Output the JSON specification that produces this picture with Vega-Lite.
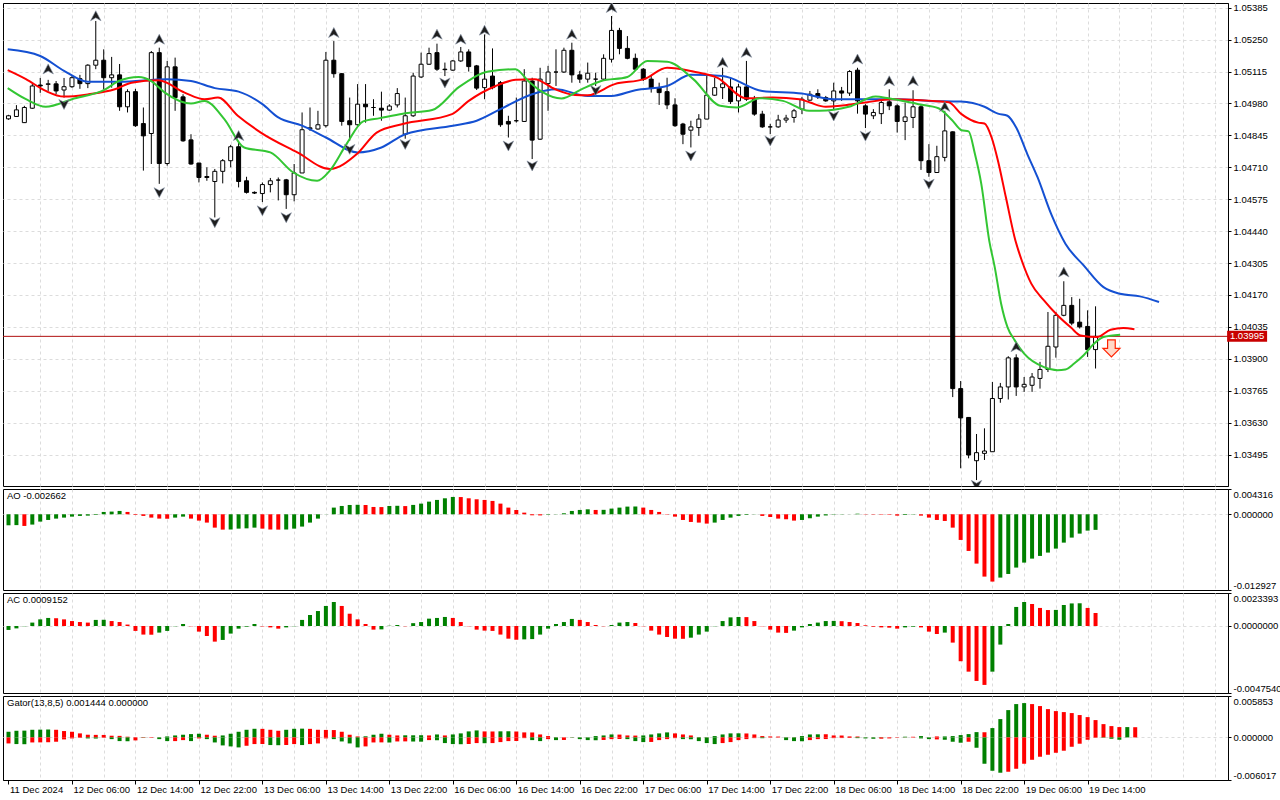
{
  "$schema": "https://vega.github.io/schema/vega-lite/v6.json",
  "background": "white",
  "padding": {"left": 2, "top": 2, "right": 0, "bottom": 0},
  "spacing": 3,
  "bounds": "flush",
  "config": {
    "view": {"stroke": "black", "strokeWidth": 1},
    "axis": {"labelFont": "Liberation Sans", "labelFontSize": 9.5, "labelColor": "black", "tickColor": "black", "domainColor": "black", "gridColor": "#dcdcdc", "gridDash": [3, 3], "gridWidth": 1, "labelOverlap": false, "labelSeparation": 0},
    "title": {"font": "Liberation Sans", "fontSize": 9.5, "fontWeight": "normal", "color": "black", "anchor": "start", "frame": "group", "offset": -12, "dx": 4, "baseline": "alphabetic"}
  },
  "datasets": {
    "last": [{"last": 1.03995}],
    "signal": [{"k": 139, "p": 1.03944}],
    "candles": [
      {"k":0,"o":1.04915,"h":1.04932,"l":1.04911,"c":1.04928},
      {"k":1,"o":1.04925,"h":1.04973,"l":1.04923,"c":1.04953},
      {"k":2,"o":1.04899,"h":1.04970,"l":1.04898,"c":1.04963},
      {"k":3,"o":1.04960,"h":1.05063,"l":1.04957,"c":1.05054},
      {"k":4,"o":1.05058,"h":1.05088,"l":1.05025,"c":1.05054},
      {"k":5,"o":1.05061,"h":1.05080,"l":1.05033,"c":1.05063},
      {"k":6,"o":1.05063,"h":1.05075,"l":1.05020,"c":1.05033},
      {"k":7,"o":1.05037,"h":1.05088,"l":1.05005,"c":1.05051},
      {"k":8,"o":1.05051,"h":1.05096,"l":1.05046,"c":1.05089},
      {"k":9,"o":1.05085,"h":1.05101,"l":1.05042,"c":1.05064},
      {"k":10,"o":1.05064,"h":1.05146,"l":1.05045,"c":1.05142},
      {"k":11,"o":1.05142,"h":1.05329,"l":1.05125,"c":1.05163},
      {"k":12,"o":1.05163,"h":1.05209,"l":1.05040,"c":1.05089},
      {"k":13,"o":1.05089,"h":1.05177,"l":1.05047,"c":1.05101},
      {"k":14,"o":1.05101,"h":1.05147,"l":1.04949,"c":1.04966},
      {"k":15,"o":1.04966,"h":1.05040,"l":1.04942,"c":1.05030},
      {"k":16,"o":1.05030,"h":1.05042,"l":1.04881,"c":1.04886},
      {"k":17,"o":1.04895,"h":1.04963,"l":1.04696,"c":1.04843},
      {"k":18,"o":1.04853,"h":1.05202,"l":1.04724,"c":1.05195},
      {"k":19,"o":1.05195,"h":1.05216,"l":1.04640,"c":1.04726},
      {"k":20,"o":1.04726,"h":1.05160,"l":1.04717,"c":1.05135},
      {"k":21,"o":1.05135,"h":1.05174,"l":1.04949,"c":1.05005},
      {"k":22,"o":1.05008,"h":1.05019,"l":1.04818,"c":1.04822},
      {"k":23,"o":1.04826,"h":1.04850,"l":1.04721,"c":1.04724},
      {"k":24,"o":1.04728,"h":1.04729,"l":1.04646,"c":1.04667},
      {"k":25,"o":1.04671,"h":1.04710,"l":1.04653,"c":1.04667},
      {"k":26,"o":1.04650,"h":1.04703,"l":1.04498,"c":1.04693},
      {"k":27,"o":1.04693,"h":1.04745,"l":1.04642,"c":1.04738},
      {"k":28,"o":1.04738,"h":1.04805,"l":1.04710,"c":1.04797},
      {"k":29,"o":1.04797,"h":1.04822,"l":1.04625,"c":1.04650},
      {"k":30,"o":1.04653,"h":1.04670,"l":1.04599,"c":1.04604},
      {"k":31,"o":1.04604,"h":1.04608,"l":1.04597,"c":1.04601},
      {"k":32,"o":1.04599,"h":1.04646,"l":1.04563,"c":1.04637},
      {"k":33,"o":1.04637,"h":1.04665,"l":1.04604,"c":1.04653},
      {"k":34,"o":1.04656,"h":1.04667,"l":1.04570,"c":1.04656},
      {"k":35,"o":1.04657,"h":1.04661,"l":1.04534,"c":1.04594},
      {"k":36,"o":1.04594,"h":1.04724,"l":1.04566,"c":1.04686},
      {"k":37,"o":1.04686,"h":1.04942,"l":1.04686,"c":1.04869},
      {"k":38,"o":1.04873,"h":1.04963,"l":1.04864,"c":1.04877},
      {"k":39,"o":1.04872,"h":1.04949,"l":1.04869,"c":1.04890},
      {"k":40,"o":1.04886,"h":1.05198,"l":1.04878,"c":1.05163},
      {"k":41,"o":1.05163,"h":1.05244,"l":1.05089,"c":1.05106},
      {"k":42,"o":1.05106,"h":1.05109,"l":1.04886,"c":1.04904},
      {"k":43,"o":1.04907,"h":1.05005,"l":1.04822,"c":1.04890},
      {"k":44,"o":1.04890,"h":1.05062,"l":1.04886,"c":1.04977},
      {"k":45,"o":1.04977,"h":1.05062,"l":1.04899,"c":1.04966},
      {"k":46,"o":1.04963,"h":1.04998,"l":1.04928,"c":1.04963},
      {"k":47,"o":1.04960,"h":1.05030,"l":1.04907,"c":1.04952},
      {"k":48,"o":1.04952,"h":1.04977,"l":1.04949,"c":1.04969},
      {"k":49,"o":1.04974,"h":1.05045,"l":1.04963,"c":1.05022},
      {"k":50,"o":1.04850,"h":1.05005,"l":1.04831,"c":1.04928},
      {"k":51,"o":1.04928,"h":1.05110,"l":1.04923,"c":1.05096},
      {"k":52,"o":1.05092,"h":1.05195,"l":1.05088,"c":1.05146},
      {"k":53,"o":1.05146,"h":1.05216,"l":1.05143,"c":1.05191},
      {"k":54,"o":1.05195,"h":1.05233,"l":1.05118,"c":1.05125},
      {"k":55,"o":1.05125,"h":1.05153,"l":1.05096,"c":1.05123},
      {"k":56,"o":1.05121,"h":1.05164,"l":1.05118,"c":1.05160},
      {"k":57,"o":1.05160,"h":1.05219,"l":1.05156,"c":1.05198},
      {"k":58,"o":1.05198,"h":1.05209,"l":1.05115,"c":1.05136},
      {"k":59,"o":1.05139,"h":1.05143,"l":1.05037,"c":1.05045},
      {"k":60,"o":1.05047,"h":1.05272,"l":1.04998,"c":1.05083},
      {"k":61,"o":1.05096,"h":1.05213,"l":1.05040,"c":1.05047},
      {"k":62,"o":1.05068,"h":1.05075,"l":1.04881,"c":1.04890},
      {"k":63,"o":1.04904,"h":1.04928,"l":1.04836,"c":1.04893},
      {"k":64,"o":1.04907,"h":1.05005,"l":1.04899,"c":1.04907},
      {"k":65,"o":1.04904,"h":1.05125,"l":1.04902,"c":1.05075},
      {"k":66,"o":1.05075,"h":1.05089,"l":1.04745,"c":1.04825},
      {"k":67,"o":1.04829,"h":1.05131,"l":1.04826,"c":1.05083},
      {"k":68,"o":1.05064,"h":1.05139,"l":1.04949,"c":1.05113},
      {"k":69,"o":1.05113,"h":1.05209,"l":1.05054,"c":1.05113},
      {"k":70,"o":1.05113,"h":1.05216,"l":1.05109,"c":1.05205},
      {"k":71,"o":1.05205,"h":1.05237,"l":1.05068,"c":1.05101},
      {"k":72,"o":1.05101,"h":1.05118,"l":1.05067,"c":1.05083},
      {"k":73,"o":1.05083,"h":1.05153,"l":1.05068,"c":1.05108},
      {"k":74,"o":1.05083,"h":1.05110,"l":1.05054,"c":1.05083},
      {"k":75,"o":1.05083,"h":1.05188,"l":1.05080,"c":1.05171},
      {"k":76,"o":1.05167,"h":1.05350,"l":1.05153,"c":1.05289},
      {"k":77,"o":1.05289,"h":1.05300,"l":1.05188,"c":1.05213},
      {"k":78,"o":1.05213,"h":1.05265,"l":1.05167,"c":1.05171},
      {"k":79,"o":1.05171,"h":1.05191,"l":1.05118,"c":1.05125},
      {"k":80,"o":1.05125,"h":1.05130,"l":1.05075,"c":1.05083},
      {"k":81,"o":1.05083,"h":1.05096,"l":1.05026,"c":1.05045},
      {"k":82,"o":1.05045,"h":1.05068,"l":1.04974,"c":1.05026},
      {"k":83,"o":1.05030,"h":1.05089,"l":1.04956,"c":1.04974},
      {"k":84,"o":1.04974,"h":1.05002,"l":1.04881,"c":1.04886},
      {"k":85,"o":1.04893,"h":1.04898,"l":1.04808,"c":1.04850},
      {"k":86,"o":1.04867,"h":1.04907,"l":1.04794,"c":1.04881},
      {"k":87,"o":1.04878,"h":1.04935,"l":1.04843,"c":1.04914},
      {"k":88,"o":1.04914,"h":1.05096,"l":1.04914,"c":1.05015},
      {"k":89,"o":1.05015,"h":1.05089,"l":1.05012,"c":1.05047},
      {"k":90,"o":1.05047,"h":1.05131,"l":1.04999,"c":1.05063},
      {"k":91,"o":1.05050,"h":1.05089,"l":1.04978,"c":1.04988},
      {"k":92,"o":1.04991,"h":1.05063,"l":1.04942,"c":1.05050},
      {"k":93,"o":1.05050,"h":1.05160,"l":1.04991,"c":1.04998},
      {"k":94,"o":1.04998,"h":1.05012,"l":1.04928,"c":1.04935},
      {"k":95,"o":1.04935,"h":1.04949,"l":1.04877,"c":1.04881},
      {"k":96,"o":1.04881,"h":1.04894,"l":1.04850,"c":1.04881},
      {"k":97,"o":1.04881,"h":1.04932,"l":1.04877,"c":1.04910},
      {"k":98,"o":1.04910,"h":1.04932,"l":1.04898,"c":1.04918},
      {"k":99,"o":1.04921,"h":1.04957,"l":1.04899,"c":1.04949},
      {"k":100,"o":1.04956,"h":1.05008,"l":1.04935,"c":1.04998},
      {"k":101,"o":1.04994,"h":1.05033,"l":1.04991,"c":1.05019},
      {"k":102,"o":1.05022,"h":1.05040,"l":1.04999,"c":1.05008},
      {"k":103,"o":1.05005,"h":1.05012,"l":1.04987,"c":1.04991},
      {"k":104,"o":1.04991,"h":1.05068,"l":1.04956,"c":1.05033},
      {"k":105,"o":1.05033,"h":1.05050,"l":1.04991,"c":1.05024},
      {"k":106,"o":1.05024,"h":1.05121,"l":1.05012,"c":1.05115},
      {"k":107,"o":1.05121,"h":1.05131,"l":1.04937,"c":1.04991},
      {"k":108,"o":1.04970,"h":1.04977,"l":1.04876,"c":1.04935},
      {"k":109,"o":1.04928,"h":1.04956,"l":1.04914,"c":1.04942},
      {"k":110,"o":1.04937,"h":1.04994,"l":1.04893,"c":1.04984},
      {"k":111,"o":1.04987,"h":1.05040,"l":1.04952,"c":1.04970},
      {"k":112,"o":1.04970,"h":1.04977,"l":1.04857,"c":1.04904},
      {"k":113,"o":1.04904,"h":1.04984,"l":1.04825,"c":1.04923},
      {"k":114,"o":1.04921,"h":1.05036,"l":1.04876,"c":1.04966},
      {"k":115,"o":1.04966,"h":1.04974,"l":1.04699,"c":1.04738},
      {"k":116,"o":1.04738,"h":1.04808,"l":1.04670,"c":1.04688},
      {"k":117,"o":1.04688,"h":1.04801,"l":1.04687,"c":1.04755},
      {"k":118,"o":1.04752,"h":1.04949,"l":1.04735,"c":1.04864},
      {"k":119,"o":1.04860,"h":1.04862,"l":1.03738,"c":1.03774},
      {"k":120,"o":1.03774,"h":1.03806,"l":1.03437,"c":1.03650},
      {"k":121,"o":1.03652,"h":1.03653,"l":1.03479,"c":1.03493},
      {"k":122,"o":1.03469,"h":1.03582,"l":1.03387,"c":1.03503},
      {"k":123,"o":1.03500,"h":1.03606,"l":1.03472,"c":1.03510},
      {"k":124,"o":1.03507,"h":1.03802,"l":1.03507,"c":1.03732},
      {"k":125,"o":1.03732,"h":1.03798,"l":1.03714,"c":1.03781},
      {"k":126,"o":1.03781,"h":1.03911,"l":1.03728,"c":1.03904},
      {"k":127,"o":1.03904,"h":1.03919,"l":1.03743,"c":1.03781},
      {"k":128,"o":1.03781,"h":1.03823,"l":1.03760,"c":1.03792},
      {"k":129,"o":1.03788,"h":1.03840,"l":1.03760,"c":1.03823},
      {"k":130,"o":1.03817,"h":1.03887,"l":1.03774,"c":1.03855},
      {"k":131,"o":1.03855,"h":1.04098,"l":1.03844,"c":1.03953},
      {"k":132,"o":1.03950,"h":1.04098,"l":1.03905,"c":1.04084},
      {"k":133,"o":1.04084,"h":1.04228,"l":1.04080,"c":1.04126},
      {"k":134,"o":1.04126,"h":1.04161,"l":1.04042,"c":1.04051},
      {"k":135,"o":1.04055,"h":1.04154,"l":1.04028,"c":1.04035},
      {"k":136,"o":1.04037,"h":1.04105,"l":1.03908,"c":1.03939},
      {"k":137,"o":1.03939,"h":1.04122,"l":1.03859,"c":1.03995}
    ],
    "jaw": [
      {"k":-0.1,"p":1.05209},{"k":4,"p":1.05181},{"k":7,"p":1.05118},{"k":10,"p":1.05072},{"k":14,"p":1.05072},{"k":20,"p":1.05083},{"k":23,"p":1.05075},{"k":26,"p":1.05045},{"k":29,"p":1.05030},{"k":32,"p":1.04977},{"k":34,"p":1.04921},{"k":37,"p":1.04886},{"k":40,"p":1.04836},{"k":44,"p":1.04773},{"k":47,"p":1.04794},{"k":50,"p":1.04850},{"k":56,"p":1.04886},{"k":59,"p":1.04907},{"k":62,"p":1.04956},{"k":66,"p":1.05019},{"k":69,"p":1.05040},{"k":73,"p":1.05012},{"k":76,"p":1.05012},{"k":79,"p":1.05036},{"k":83,"p":1.05054},{"k":86,"p":1.05101},{"k":90,"p":1.05096},{"k":95,"p":1.05033},{"k":100,"p":1.05022},{"k":104,"p":1.04998},{"k":112,"p":1.04998},{"k":116,"p":1.04991},{"k":120,"p":1.04988},{"k":123,"p":1.04966},{"k":124.7,"p":1.04937},{"k":125.9,"p":1.04928},{"k":127,"p":1.04878},{"k":128.4,"p":1.04766},{"k":129.7,"p":1.04667},{"k":131.4,"p":1.04513},{"k":133.2,"p":1.04387},{"k":135.5,"p":1.04295},{"k":138,"p":1.04203},{"k":140.1,"p":1.04175},{"k":142.6,"p":1.04164},{"k":145,"p":1.04140}
    ],
    "teeth": [
      {"k":-0.1,"p":1.05121},{"k":2.2,"p":1.05083},{"k":4.7,"p":1.05033},{"k":7,"p":1.05009},{"k":10.1,"p":1.05019},{"k":13.4,"p":1.05040},{"k":15.5,"p":1.05068},{"k":18.9,"p":1.05078},{"k":22.2,"p":1.05026},{"k":24.7,"p":1.04998},{"k":26.4,"p":1.05005},{"k":28.9,"p":1.04928},{"k":31.8,"p":1.04857},{"k":36.4,"p":1.04773},{"k":40.5,"p":1.04703},{"k":43.9,"p":1.04766},{"k":46.4,"p":1.04857},{"k":49.7,"p":1.04893},{"k":55.9,"p":1.04935},{"k":58,"p":1.04991},{"k":61.4,"p":1.05054},{"k":63.9,"p":1.05080},{"k":66.3,"p":1.05083},{"k":68.9,"p":1.05040},{"k":71.4,"p":1.05016},{"k":73,"p":1.05015},{"k":76.4,"p":1.05062},{"k":80.1,"p":1.05083},{"k":83,"p":1.05131},{"k":86.3,"p":1.05115},{"k":89.3,"p":1.05089},{"k":93,"p":1.05002},{"k":96.3,"p":1.05005},{"k":99.7,"p":1.04998},{"k":101,"p":1.04984},{"k":103,"p":1.04966},{"k":108,"p":1.04984},{"k":111.3,"p":1.04998},{"k":116.4,"p":1.04991},{"k":118.5,"p":1.04985},{"k":120.1,"p":1.04935},{"k":122.2,"p":1.04899},{"k":123,"p":1.04895},{"k":123.9,"p":1.04836},{"k":124.7,"p":1.04738},{"k":125.7,"p":1.04583},{"k":126.9,"p":1.04400},{"k":127.7,"p":1.04316},{"k":128.9,"p":1.04218},{"k":130.5,"p":1.04147},{"k":132.2,"p":1.04084},{"k":133.9,"p":1.04032},{"k":135.1,"p":1.03999},{"k":137.2,"p":1.03992},{"k":138.9,"p":1.04023},{"k":140.5,"p":1.04030},{"k":141.9,"p":1.04025}
    ],
    "lips": [
      {"k":-0.1,"p":1.05045},{"k":2.2,"p":1.04998},{"k":4.7,"p":1.04966},{"k":8,"p":1.04998},{"k":12.2,"p":1.05040},{"k":13.9,"p":1.05075},{"k":16.4,"p":1.05092},{"k":18,"p":1.05075},{"k":19.7,"p":1.05026},{"k":23,"p":1.04980},{"k":24.7,"p":1.04991},{"k":27.2,"p":1.04914},{"k":29.7,"p":1.04794},{"k":33,"p":1.04773},{"k":35.9,"p":1.04688},{"k":38.9,"p":1.04653},{"k":40.5,"p":1.04696},{"k":42.6,"p":1.04808},{"k":44.7,"p":1.04904},{"k":46.8,"p":1.04918},{"k":49.7,"p":1.04937},{"k":53.4,"p":1.04952},{"k":56.8,"p":1.05050},{"k":60.5,"p":1.05115},{"k":63.9,"p":1.05125},{"k":65.5,"p":1.05075},{"k":67.2,"p":1.05030},{"k":69.7,"p":1.05001},{"k":72.2,"p":1.05040},{"k":74.7,"p":1.05075},{"k":78,"p":1.05092},{"k":80.5,"p":1.05160},{"k":83,"p":1.05157},{"k":86.3,"p":1.05083},{"k":89.7,"p":1.04970},{"k":91.8,"p":1.04963},{"k":94.7,"p":1.05002},{"k":97.6,"p":1.04991},{"k":100.9,"p":1.04949},{"k":102.2,"p":1.04949},{"k":105.9,"p":1.04966},{"k":109.3,"p":1.05009},{"k":110.9,"p":1.05002},{"k":114.7,"p":1.04977},{"k":117.2,"p":1.04960},{"k":118.9,"p":1.04910},{"k":120.1,"p":1.04867},{"k":121,"p":1.04862},{"k":121.8,"p":1.04766},{"k":122.6,"p":1.04640},{"k":123.6,"p":1.04400},{"k":124.3,"p":1.04287},{"k":125.1,"p":1.04133},{"k":125.9,"p":1.04034},{"k":126.8,"p":1.03979},{"k":128,"p":1.03922},{"k":130.5,"p":1.03865},{"k":132.2,"p":1.03852},{"k":133.2,"p":1.03855},{"k":134.3,"p":1.03880},{"k":135.5,"p":1.03915},{"k":136.8,"p":1.03964},{"k":138,"p":1.03992},{"k":140.1,"p":1.04002}
    ],
    "fractals": [
      {"k":5,"p":1.05125,"t":"up"},{"k":11,"p":1.05350,"t":"up"},{"k":19,"p":1.05251,"t":"up"},{"k":29,"p":1.04843,"t":"up"},{"k":41,"p":1.05279,"t":"up"},{"k":54,"p":1.05272,"t":"up"},{"k":57,"p":1.05251,"t":"up"},{"k":60,"p":1.05289,"t":"up"},{"k":71,"p":1.05272,"t":"up"},{"k":76,"p":1.05385,"t":"up"},{"k":90,"p":1.05153,"t":"up"},{"k":93,"p":1.05195,"t":"up"},{"k":107,"p":1.05167,"t":"up"},{"k":111,"p":1.05075,"t":"up"},{"k":114,"p":1.05075,"t":"up"},{"k":118,"p":1.04966,"t":"up"},{"k":127,"p":1.03950,"t":"up"},{"k":133,"p":1.04266,"t":"up"},
      {"k":7,"p":1.04977,"t":"dn"},{"k":19,"p":1.04604,"t":"dn"},{"k":26,"p":1.04477,"t":"dn"},{"k":32,"p":1.04527,"t":"dn"},{"k":35,"p":1.04498,"t":"dn"},{"k":43,"p":1.04787,"t":"dn"},{"k":50,"p":1.04808,"t":"dn"},{"k":55,"p":1.05068,"t":"dn"},{"k":63,"p":1.04801,"t":"dn"},{"k":66,"p":1.04717,"t":"dn"},{"k":74,"p":1.05036,"t":"dn"},{"k":86,"p":1.04759,"t":"dn"},{"k":96,"p":1.04822,"t":"dn"},{"k":104,"p":1.04928,"t":"dn"},{"k":108,"p":1.04843,"t":"dn"},{"k":116,"p":1.04640,"t":"dn"},{"k":122,"p":1.03366,"t":"dn"}
    ],
    "ao": [
      {"k":0,"v":-0.00188,"c":"g"},{"k":1,"v":-0.00185,"c":"g"},{"k":2,"v":-0.00199,"c":"r"},{"k":3,"v":-0.00176,"c":"g"},{"k":4,"v":-0.00125,"c":"g"},{"k":5,"v":-0.00097,"c":"g"},{"k":6,"v":-0.00074,"c":"g"},{"k":7,"v":-0.00057,"c":"g"},{"k":8,"v":-0.00040,"c":"g"},{"k":9,"v":-0.00028,"c":"g"},
      {"k":10,"v":-0.00023,"c":"g"},{"k":11,"v":-0.00011,"c":"g"},{"k":12,"v":0.00040,"c":"g"},{"k":13,"v":0.00046,"c":"g"},{"k":14,"v":0.00057,"c":"g"},{"k":15,"v":0.00040,"c":"r"},{"k":16,"v":-0.00011,"c":"r"},{"k":17,"v":-0.00028,"c":"r"},{"k":18,"v":-0.00057,"c":"r"},{"k":19,"v":-0.00074,"c":"r"},
      {"k":20,"v":-0.00076,"c":"r"},{"k":21,"v":-0.00057,"c":"g"},{"k":22,"v":-0.00040,"c":"g"},{"k":23,"v":-0.00074,"c":"r"},{"k":24,"v":-0.00108,"c":"r"},{"k":25,"v":-0.00142,"c":"r"},{"k":26,"v":-0.00228,"c":"r"},{"k":27,"v":-0.00262,"c":"r"},{"k":28,"v":-0.00260,"c":"g"},{"k":29,"v":-0.00245,"c":"g"},
      {"k":30,"v":-0.00240,"c":"g"},{"k":31,"v":-0.00228,"c":"g"},{"k":32,"v":-0.00245,"c":"r"},{"k":33,"v":-0.00260,"c":"r"},{"k":34,"v":-0.00262,"c":"r"},{"k":35,"v":-0.00260,"c":"g"},{"k":36,"v":-0.00245,"c":"g"},{"k":37,"v":-0.00210,"c":"g"},{"k":38,"v":-0.00142,"c":"g"},{"k":39,"v":-0.00074,"c":"g"},
      {"k":40,"v":-0.00002,"c":"g"},{"k":41,"v":0.00114,"c":"g"},{"k":42,"v":0.00142,"c":"g"},{"k":43,"v":0.00159,"c":"g"},{"k":44,"v":0.00162,"c":"g"},{"k":45,"v":0.00158,"c":"r"},{"k":46,"v":0.00125,"c":"r"},{"k":47,"v":0.00123,"c":"r"},{"k":48,"v":0.00142,"c":"g"},{"k":49,"v":0.00145,"c":"g"},
      {"k":50,"v":0.00140,"c":"r"},{"k":51,"v":0.00160,"c":"g"},{"k":52,"v":0.00182,"c":"g"},{"k":53,"v":0.00216,"c":"g"},{"k":54,"v":0.00245,"c":"g"},{"k":55,"v":0.00273,"c":"g"},{"k":56,"v":0.00296,"c":"g"},{"k":57,"v":0.00294,"c":"r"},{"k":58,"v":0.00273,"c":"r"},{"k":59,"v":0.00256,"c":"r"},
      {"k":60,"v":0.00245,"c":"r"},{"k":61,"v":0.00228,"c":"r"},{"k":62,"v":0.00182,"c":"r"},{"k":63,"v":0.00114,"c":"r"},{"k":64,"v":0.00074,"c":"r"},{"k":65,"v":0.00028,"c":"r"},{"k":66,"v":-0.00017,"c":"r"},{"k":67,"v":-0.00019,"c":"r"},{"k":68,"v":-0.00008,"c":"g"},{"k":69,"v":-0.00003,"c":"g"},
      {"k":70,"v":0.00017,"c":"g"},{"k":71,"v":0.00057,"c":"g"},{"k":72,"v":0.00074,"c":"g"},{"k":73,"v":0.00085,"c":"g"},{"k":74,"v":0.00074,"c":"r"},{"k":75,"v":0.00076,"c":"g"},{"k":76,"v":0.00097,"c":"g"},{"k":77,"v":0.00114,"c":"g"},{"k":78,"v":0.00131,"c":"g"},{"k":79,"v":0.00133,"c":"g"},
      {"k":80,"v":0.00114,"c":"r"},{"k":81,"v":0.00074,"c":"r"},{"k":82,"v":0.00040,"c":"r"},{"k":83,"v":-0.00006,"c":"r"},{"k":84,"v":-0.00040,"c":"r"},{"k":85,"v":-0.00097,"c":"r"},{"k":86,"v":-0.00131,"c":"r"},{"k":87,"v":-0.00142,"c":"r"},{"k":88,"v":-0.00159,"c":"r"},{"k":89,"v":-0.00142,"c":"g"},
      {"k":90,"v":-0.00097,"c":"g"},{"k":91,"v":-0.00057,"c":"g"},{"k":92,"v":-0.00028,"c":"g"},{"k":93,"v":-0.00011,"c":"g"},{"k":94,"v":-0.00003,"c":"g"},{"k":95,"v":-0.00028,"c":"r"},{"k":96,"v":-0.00046,"c":"r"},{"k":97,"v":-0.00074,"c":"r"},{"k":98,"v":-0.00085,"c":"r"},{"k":99,"v":-0.00108,"c":"r"},
      {"k":100,"v":-0.00097,"c":"g"},{"k":101,"v":-0.00068,"c":"g"},{"k":102,"v":-0.00040,"c":"g"},{"k":103,"v":-0.00020,"c":"g"},{"k":104,"v":-0.00006,"c":"g"},{"k":105,"v":-0.00004,"c":"g"},{"k":106,"v":-0.00001,"c":"g"},{"k":107,"v":0.00010,"c":"g"},{"k":108,"v":-0.00005,"c":"r"},{"k":109,"v":-0.00006,"c":"r"},
      {"k":110,"v":-0.00007,"c":"r"},{"k":111,"v":-0.00008,"c":"r"},{"k":112,"v":-0.00023,"c":"r"},{"k":113,"v":-0.00012,"c":"g"},{"k":114,"v":-0.00005,"c":"g"},{"k":115,"v":-0.00023,"c":"r"},{"k":116,"v":-0.00057,"c":"r"},{"k":117,"v":-0.00097,"c":"r"},{"k":118,"v":-0.00114,"c":"r"},{"k":119,"v":-0.00228,"c":"r"},
      {"k":120,"v":-0.00438,"c":"r"},{"k":121,"v":-0.00626,"c":"r"},{"k":122,"v":-0.00842,"c":"r"},{"k":123,"v":-0.01064,"c":"r"},{"k":124,"v":-0.01149,"c":"r"},{"k":125,"v":-0.01081,"c":"g"},{"k":126,"v":-0.01019,"c":"g"},{"k":127,"v":-0.00910,"c":"g"},{"k":128,"v":-0.00825,"c":"g"},{"k":129,"v":-0.00757,"c":"g"},
      {"k":130,"v":-0.00711,"c":"g"},{"k":131,"v":-0.00654,"c":"g"},{"k":132,"v":-0.00586,"c":"g"},{"k":133,"v":-0.00484,"c":"g"},{"k":134,"v":-0.00398,"c":"g"},{"k":135,"v":-0.00330,"c":"g"},{"k":136,"v":-0.00279,"c":"g"},{"k":137,"v":-0.00266,"c":"g"}
    ],
    "ac": [
      {"k":0,"v":-0.00028,"c":"g"},{"k":1,"v":-0.00017,"c":"g"},{"k":2,"v":-0.00002,"c":"g"},{"k":3,"v":0.00024,"c":"g"},{"k":4,"v":0.00047,"c":"g"},{"k":5,"v":0.00057,"c":"g"},{"k":6,"v":0.00055,"c":"r"},{"k":7,"v":0.00047,"c":"r"},{"k":8,"v":0.00035,"c":"r"},{"k":9,"v":0.00028,"c":"r"},
      {"k":10,"v":0.00024,"c":"r"},{"k":11,"v":0.00043,"c":"g"},{"k":12,"v":0.00044,"c":"g"},{"k":13,"v":0.00035,"c":"r"},{"k":14,"v":0.00028,"c":"r"},{"k":15,"v":0.00010,"c":"r"},{"k":16,"v":-0.00035,"c":"r"},{"k":17,"v":-0.00061,"c":"r"},{"k":18,"v":-0.00062,"c":"r"},{"k":19,"v":-0.00047,"c":"g"},
      {"k":20,"v":-0.00035,"c":"g"},{"k":21,"v":-0.00002,"c":"g"},{"k":22,"v":0.00014,"c":"g"},{"k":23,"v":-0.00002,"c":"r"},{"k":24,"v":-0.00040,"c":"r"},{"k":25,"v":-0.00071,"c":"r"},{"k":26,"v":-0.00111,"c":"r"},{"k":27,"v":-0.00099,"c":"g"},{"k":28,"v":-0.00054,"c":"g"},{"k":29,"v":-0.00019,"c":"g"},
      {"k":30,"v":-0.00005,"c":"g"},{"k":31,"v":0.00014,"c":"g"},{"k":32,"v":-0.00003,"c":"r"},{"k":33,"v":-0.00010,"c":"r"},{"k":34,"v":-0.00019,"c":"r"},{"k":35,"v":-0.00010,"c":"g"},{"k":36,"v":-0.00002,"c":"g"},{"k":37,"v":0.00043,"c":"g"},{"k":38,"v":0.00078,"c":"g"},{"k":39,"v":0.00106,"c":"g"},
      {"k":40,"v":0.00142,"c":"g"},{"k":41,"v":0.00170,"c":"g"},{"k":42,"v":0.00142,"c":"r"},{"k":43,"v":0.00087,"c":"r"},{"k":44,"v":0.00047,"c":"r"},{"k":45,"v":0.00014,"c":"r"},{"k":46,"v":-0.00026,"c":"r"},{"k":47,"v":-0.00024,"c":"g"},{"k":48,"v":0.00002,"c":"g"},{"k":49,"v":0.00007,"c":"g"},
      {"k":50,"v":-0.00002,"c":"r"},{"k":51,"v":0.00020,"c":"g"},{"k":52,"v":0.00028,"c":"g"},{"k":53,"v":0.00052,"c":"g"},{"k":54,"v":0.00057,"c":"g"},{"k":55,"v":0.00064,"c":"g"},{"k":56,"v":0.00057,"c":"r"},{"k":57,"v":0.00028,"c":"r"},{"k":58,"v":-0.00002,"c":"r"},{"k":59,"v":-0.00026,"c":"r"},
      {"k":60,"v":-0.00033,"c":"r"},{"k":61,"v":-0.00035,"c":"r"},{"k":62,"v":-0.00061,"c":"r"},{"k":63,"v":-0.00090,"c":"r"},{"k":64,"v":-0.00097,"c":"r"},{"k":65,"v":-0.00095,"c":"g"},{"k":66,"v":-0.00093,"c":"g"},{"k":67,"v":-0.00061,"c":"g"},{"k":68,"v":-0.00019,"c":"g"},{"k":69,"v":0.00014,"c":"g"},
      {"k":70,"v":0.00028,"c":"g"},{"k":71,"v":0.00050,"c":"g"},{"k":72,"v":0.00043,"c":"r"},{"k":73,"v":0.00028,"c":"r"},{"k":74,"v":0.00007,"c":"r"},{"k":75,"v":-0.00002,"c":"r"},{"k":76,"v":0.00007,"c":"g"},{"k":77,"v":0.00024,"c":"g"},{"k":78,"v":0.00028,"c":"g"},{"k":79,"v":0.00021,"c":"r"},
      {"k":80,"v":-0.00002,"c":"r"},{"k":81,"v":-0.00033,"c":"r"},{"k":82,"v":-0.00061,"c":"r"},{"k":83,"v":-0.00078,"c":"r"},{"k":84,"v":-0.00090,"c":"r"},{"k":85,"v":-0.00091,"c":"r"},{"k":86,"v":-0.00083,"c":"g"},{"k":87,"v":-0.00061,"c":"g"},{"k":88,"v":-0.00040,"c":"g"},{"k":89,"v":-0.00002,"c":"g"},
      {"k":90,"v":0.00035,"c":"g"},{"k":91,"v":0.00061,"c":"g"},{"k":92,"v":0.00064,"c":"g"},{"k":93,"v":0.00063,"c":"r"},{"k":94,"v":0.00035,"c":"r"},{"k":95,"v":-0.00002,"c":"r"},{"k":96,"v":-0.00026,"c":"r"},{"k":97,"v":-0.00047,"c":"r"},{"k":98,"v":-0.00049,"c":"r"},{"k":99,"v":-0.00033,"c":"g"},
      {"k":100,"v":-0.00010,"c":"g"},{"k":101,"v":0.00014,"c":"g"},{"k":102,"v":0.00024,"c":"g"},{"k":103,"v":0.00035,"c":"g"},{"k":104,"v":0.00036,"c":"g"},{"k":105,"v":0.00034,"c":"r"},{"k":106,"v":0.00028,"c":"r"},{"k":107,"v":0.00021,"c":"r"},{"k":108,"v":0.00005,"c":"r"},{"k":109,"v":-0.00005,"c":"r"},
      {"k":110,"v":-0.00010,"c":"r"},{"k":111,"v":-0.00012,"c":"r"},{"k":112,"v":-0.00019,"c":"r"},{"k":113,"v":-0.00010,"c":"g"},{"k":114,"v":-0.00005,"c":"g"},{"k":115,"v":-0.00010,"c":"r"},{"k":116,"v":-0.00040,"c":"r"},{"k":117,"v":-0.00057,"c":"r"},{"k":118,"v":-0.00047,"c":"g"},{"k":119,"v":-0.00118,"c":"r"},
      {"k":120,"v":-0.00250,"c":"r"},{"k":121,"v":-0.00324,"c":"r"},{"k":122,"v":-0.00390,"c":"r"},{"k":123,"v":-0.00418,"c":"r"},{"k":124,"v":-0.00324,"c":"g"},{"k":125,"v":-0.00132,"c":"g"},{"k":126,"v":0.00014,"c":"g"},{"k":127,"v":0.00135,"c":"g"},{"k":128,"v":0.00170,"c":"g"},{"k":129,"v":0.00156,"c":"r"},
      {"k":130,"v":0.00128,"c":"r"},{"k":131,"v":0.00113,"c":"r"},{"k":132,"v":0.00114,"c":"g"},{"k":133,"v":0.00149,"c":"g"},{"k":134,"v":0.00160,"c":"g"},{"k":135,"v":0.00161,"c":"g"},{"k":136,"v":0.00128,"c":"r"},{"k":137,"v":0.00092,"c":"r"}
    ],
    "gator": [
      {"k":0,"up":0.00080,"uc":"g","dn":-0.00085,"dc":"r"},{"k":1,"up":0.00094,"uc":"g","dn":-0.00094,"dc":"g"},{"k":2,"up":0.00096,"uc":"g","dn":-0.00096,"dc":"g"},{"k":3,"up":0.00108,"uc":"g","dn":-0.00071,"dc":"r"},{"k":4,"up":0.00110,"uc":"g","dn":-0.00070,"dc":"r"},
      {"k":5,"up":0.00112,"uc":"g","dn":-0.00068,"dc":"r"},{"k":6,"up":0.00108,"uc":"r","dn":-0.00061,"dc":"r"},{"k":7,"up":0.00090,"uc":"r","dn":-0.00028,"dc":"r"},{"k":8,"up":0.00080,"uc":"r","dn":-0.00014,"dc":"r"},{"k":9,"up":0.00057,"uc":"r","dn":-0.00005,"dc":"r"},
      {"k":10,"up":0.00038,"uc":"r","dn":-0.00014,"dc":"g"},{"k":11,"up":0.00036,"uc":"r","dn":-0.00016,"dc":"g"},{"k":12,"up":0.00035,"uc":"r","dn":-0.00005,"dc":"r"},{"k":13,"up":0.00024,"uc":"r","dn":-0.00024,"dc":"g"},{"k":14,"up":0.00022,"uc":"r","dn":-0.00052,"dc":"g"},
      {"k":15,"up":0.00010,"uc":"r","dn":-0.00054,"dc":"g"},{"k":16,"up":0.00002,"uc":"r","dn":-0.00042,"dc":"r"},{"k":17,"up":0.00005,"uc":"g","dn":-0.00005,"dc":"r"},{"k":18,"up":0.00004,"uc":"r","dn":-0.00004,"dc":"r"},{"k":19,"up":0.00001,"uc":"r","dn":-0.00024,"dc":"g"},
      {"k":20,"up":0.00014,"uc":"g","dn":-0.00052,"dc":"g"},{"k":21,"up":0.00028,"uc":"g","dn":-0.00052,"dc":"r"},{"k":22,"up":0.00038,"uc":"g","dn":-0.00038,"dc":"r"},{"k":23,"up":0.00047,"uc":"g","dn":-0.00052,"dc":"g"},{"k":24,"up":0.00052,"uc":"g","dn":-0.00014,"dc":"r"},
      {"k":25,"up":0.00038,"uc":"r","dn":-0.00024,"dc":"g"},{"k":26,"up":0.00024,"uc":"r","dn":-0.00071,"dc":"g"},{"k":27,"up":0.00028,"uc":"g","dn":-0.00113,"dc":"g"},{"k":28,"up":0.00052,"uc":"g","dn":-0.00127,"dc":"g"},{"k":29,"up":0.00080,"uc":"g","dn":-0.00141,"dc":"g"},
      {"k":30,"up":0.00108,"uc":"g","dn":-0.00118,"dc":"r"},{"k":31,"up":0.00122,"uc":"g","dn":-0.00094,"dc":"r"},{"k":32,"up":0.00121,"uc":"r","dn":-0.00093,"dc":"r"},{"k":33,"up":0.00108,"uc":"r","dn":-0.00108,"dc":"g"},{"k":34,"up":0.00094,"uc":"r","dn":-0.00110,"dc":"g"},
      {"k":35,"up":0.00108,"uc":"g","dn":-0.00107,"dc":"r"},{"k":36,"up":0.00122,"uc":"g","dn":-0.00094,"dc":"r"},{"k":37,"up":0.00124,"uc":"g","dn":-0.00108,"dc":"g"},{"k":38,"up":0.00121,"uc":"r","dn":-0.00094,"dc":"r"},{"k":39,"up":0.00108,"uc":"r","dn":-0.00085,"dc":"r"},
      {"k":40,"up":0.00106,"uc":"r","dn":-0.00014,"dc":"r"},{"k":41,"up":0.00104,"uc":"r","dn":-0.00024,"dc":"g"},{"k":42,"up":0.00080,"uc":"r","dn":-0.00057,"dc":"g"},{"k":43,"up":0.00038,"uc":"r","dn":-0.00085,"dc":"g"},{"k":44,"up":0.00014,"uc":"r","dn":-0.00141,"dc":"g"},
      {"k":45,"up":0.00016,"uc":"g","dn":-0.00127,"dc":"r"},{"k":46,"up":0.00038,"uc":"g","dn":-0.00071,"dc":"r"},{"k":47,"up":0.00052,"uc":"g","dn":-0.00070,"dc":"r"},{"k":48,"up":0.00038,"uc":"r","dn":-0.00072,"dc":"g"},{"k":49,"up":0.00028,"uc":"r","dn":-0.00057,"dc":"r"},
      {"k":50,"up":0.00030,"uc":"g","dn":-0.00056,"dc":"r"},{"k":51,"up":0.00030,"uc":"g","dn":-0.00058,"dc":"g"},{"k":52,"up":0.00031,"uc":"g","dn":-0.00060,"dc":"g"},{"k":53,"up":0.00028,"uc":"r","dn":-0.00038,"dc":"r"},{"k":54,"up":0.00042,"uc":"g","dn":-0.00040,"dc":"g"},
      {"k":55,"up":0.00028,"uc":"r","dn":-0.00080,"dc":"g"},{"k":56,"up":0.00042,"uc":"g","dn":-0.00094,"dc":"g"},{"k":57,"up":0.00057,"uc":"g","dn":-0.00096,"dc":"g"},{"k":58,"up":0.00085,"uc":"g","dn":-0.00093,"dc":"r"},{"k":59,"up":0.00099,"uc":"g","dn":-0.00080,"dc":"r"},
      {"k":60,"up":0.00085,"uc":"r","dn":-0.00082,"dc":"g"},{"k":61,"up":0.00084,"uc":"r","dn":-0.00080,"dc":"r"},{"k":62,"up":0.00086,"uc":"g","dn":-0.00066,"dc":"r"},{"k":63,"up":0.00087,"uc":"g","dn":-0.00052,"dc":"r"},{"k":64,"up":0.00085,"uc":"r","dn":-0.00050,"dc":"r"},
      {"k":65,"up":0.00071,"uc":"r","dn":-0.00010,"dc":"r"},{"k":66,"up":0.00070,"uc":"r","dn":-0.00038,"dc":"g"},{"k":67,"up":0.00042,"uc":"r","dn":-0.00052,"dc":"g"},{"k":68,"up":0.00019,"uc":"r","dn":-0.00024,"dc":"r"},{"k":69,"up":0.00002,"uc":"r","dn":-0.00038,"dc":"g"},
      {"k":70,"up":0.00001,"uc":"r","dn":-0.00036,"dc":"r"},{"k":71,"up":0.00005,"uc":"g","dn":-0.00001,"dc":"r"},{"k":72,"up":0.00001,"uc":"r","dn":-0.00024,"dc":"g"},{"k":73,"up":0.00001,"uc":"r","dn":-0.00038,"dc":"g"},{"k":74,"up":0.00019,"uc":"g","dn":-0.00040,"dc":"g"},
      {"k":75,"up":0.00028,"uc":"g","dn":-0.00036,"dc":"r"},{"k":76,"up":0.00042,"uc":"g","dn":-0.00024,"dc":"r"},{"k":77,"up":0.00040,"uc":"r","dn":-0.00022,"dc":"r"},{"k":78,"up":0.00028,"uc":"r","dn":-0.00024,"dc":"g"},{"k":79,"up":0.00026,"uc":"r","dn":-0.00052,"dc":"g"},
      {"k":80,"up":0.00028,"uc":"g","dn":-0.00066,"dc":"g"},{"k":81,"up":0.00042,"uc":"g","dn":-0.00064,"dc":"r"},{"k":82,"up":0.00057,"uc":"g","dn":-0.00038,"dc":"r"},{"k":83,"up":0.00071,"uc":"g","dn":-0.00024,"dc":"r"},{"k":84,"up":0.00057,"uc":"r","dn":-0.00010,"dc":"r"},
      {"k":85,"up":0.00042,"uc":"r","dn":-0.00024,"dc":"g"},{"k":86,"up":0.00028,"uc":"r","dn":-0.00026,"dc":"g"},{"k":87,"up":0.00003,"uc":"r","dn":-0.00052,"dc":"g"},{"k":88,"up":0.00002,"uc":"r","dn":-0.00080,"dc":"g"},{"k":89,"up":0.00019,"uc":"g","dn":-0.00094,"dc":"g"},
      {"k":90,"up":0.00042,"uc":"g","dn":-0.00080,"dc":"r"},{"k":91,"up":0.00057,"uc":"g","dn":-0.00066,"dc":"r"},{"k":92,"up":0.00058,"uc":"g","dn":-0.00038,"dc":"r"},{"k":93,"up":0.00056,"uc":"r","dn":-0.00024,"dc":"r"},{"k":94,"up":0.00042,"uc":"r","dn":-0.00010,"dc":"r"},
      {"k":95,"up":0.00019,"uc":"r","dn":-0.00011,"dc":"g"},{"k":96,"up":0.00014,"uc":"r","dn":-0.00002,"dc":"r"},{"k":97,"up":0.00012,"uc":"r","dn":-0.00001,"dc":"r"},{"k":98,"up":0.00002,"uc":"r","dn":-0.00038,"dc":"g"},{"k":99,"up":0.00002,"uc":"r","dn":-0.00052,"dc":"g"},
      {"k":100,"up":0.00019,"uc":"g","dn":-0.00054,"dc":"g"},{"k":101,"up":0.00042,"uc":"g","dn":-0.00038,"dc":"r"},{"k":102,"up":0.00044,"uc":"g","dn":-0.00024,"dc":"r"},{"k":103,"up":0.00045,"uc":"r","dn":-0.00023,"dc":"r"},{"k":104,"up":0.00028,"uc":"r","dn":-0.00010,"dc":"r"},
      {"k":105,"up":0.00027,"uc":"r","dn":-0.00009,"dc":"r"},{"k":106,"up":0.00014,"uc":"r","dn":-0.00008,"dc":"r"},{"k":107,"up":0.00013,"uc":"r","dn":-0.00010,"dc":"g"},{"k":108,"up":0.00001,"uc":"r","dn":-0.00014,"dc":"g"},{"k":109,"up":0.00001,"uc":"r","dn":-0.00019,"dc":"g"},
      {"k":110,"up":0.00005,"uc":"g","dn":-0.00018,"dc":"r"},{"k":111,"up":0.00001,"uc":"r","dn":-0.00014,"dc":"r"},{"k":112,"up":0.00001,"uc":"r","dn":-0.00005,"dc":"r"},{"k":113,"up":0.00010,"uc":"g","dn":-0.00001,"dc":"r"},{"k":114,"up":0.00009,"uc":"r","dn":-0.00001,"dc":"r"},
      {"k":115,"up":0.00019,"uc":"g","dn":-0.00014,"dc":"g"},{"k":116,"up":0.00001,"uc":"r","dn":-0.00024,"dc":"g"},{"k":117,"up":0.00014,"uc":"r","dn":-0.00028,"dc":"r"},{"k":118,"up":0.00014,"uc":"g","dn":-0.00033,"dc":"g"},{"k":119,"up":0.00019,"uc":"g","dn":-0.00061,"dc":"g"},
      {"k":120,"up":0.00033,"uc":"g","dn":-0.00075,"dc":"g"},{"k":121,"up":0.00047,"uc":"g","dn":-0.00061,"dc":"r"},{"k":122,"up":0.00075,"uc":"g","dn":-0.00146,"dc":"g"},{"k":123,"up":0.00073,"uc":"r","dn":-0.00372,"dc":"g"},{"k":124,"up":0.00132,"uc":"g","dn":-0.00471,"dc":"g"},
      {"k":125,"up":0.00259,"uc":"g","dn":-0.00499,"dc":"g"},{"k":126,"up":0.00386,"uc":"g","dn":-0.00485,"dc":"r"},{"k":127,"up":0.00471,"uc":"g","dn":-0.00443,"dc":"r"},{"k":128,"up":0.00485,"uc":"g","dn":-0.00372,"dc":"r"},{"k":129,"up":0.00471,"uc":"r","dn":-0.00316,"dc":"r"},
      {"k":130,"up":0.00443,"uc":"r","dn":-0.00273,"dc":"r"},{"k":131,"up":0.00400,"uc":"r","dn":-0.00245,"dc":"r"},{"k":132,"up":0.00372,"uc":"r","dn":-0.00217,"dc":"r"},{"k":133,"up":0.00358,"uc":"r","dn":-0.00188,"dc":"r"},{"k":134,"up":0.00344,"uc":"r","dn":-0.00132,"dc":"r"},
      {"k":135,"up":0.00316,"uc":"r","dn":-0.00089,"dc":"r"},{"k":136,"up":0.00287,"uc":"r","dn":-0.00033,"dc":"r"},{"k":137,"up":0.00245,"uc":"r","dn":-0.00005,"dc":"r"},{"k":138,"up":0.00188,"uc":"r","dn":-0.00005,"dc":"g"},{"k":139,"up":0.00160,"uc":"r","dn":-0.00019,"dc":"g"},
      {"k":140,"up":0.00146,"uc":"r","dn":-0.00033,"dc":"g"},{"k":141,"up":0.00146,"uc":"g","dn":0,"dc":"r"},{"k":142,"up":0.001444,"uc":"r","dn":0,"dc":"r"}
    ]
  },
  "vconcat": [
    {
      "width": 1225,
      "height": 483,
      "layer": [
        {
          "data": {"name": "last"},
          "mark": {"type": "rule", "color": "#b01010", "strokeWidth": 1},
          "encoding": {
            "y": {"field": "last", "type": "quantitative", "scale": {"domain": [1.03362, 1.05405], "nice": false, "zero": false},
              "axis": {"orient": "right", "title": null, "values": [1.03495, 1.0363, 1.03765, 1.039, 1.04035, 1.0417, 1.04305, 1.0444, 1.04575, 1.0471, 1.04845, 1.0498, 1.05115, 1.0525, 1.05385], "tickCount": 30, "format": ".5f", "grid": true, "tickSize": 3, "labelPadding": 2, "labelOverlap": false, "labelBound": false, "domain": true}}
          }
        },
        {
          "data": {"name": "candles"},
          "mark": {"type": "rule", "color": "black", "strokeWidth": 1, "clip": true},
          "encoding": {
            "x": {"field": "k", "type": "quantitative", "scale": {"domain": [-0.0625, 153.0625], "nice": false, "zero": false},
              "axis": {"orient": "bottom", "title": null, "values": [4,8,12,16,20,24,28,32,36,40,44,48,52,56,60,64,68,72,76,80,84,88,92,96,100,104,108,112,116,120,124,128,132,136,140,144,148,152], "tickCount": 60, "grid": true, "labels": false, "ticks": false, "domain": false}},
            "y": {"field": "l", "type": "quantitative", "scale": {"domain": [1.03362, 1.05405], "nice": false, "zero": false},
              "axis": {"orient": "right", "title": null, "values": [1.03495, 1.0363, 1.03765, 1.039, 1.04035, 1.0417, 1.04305, 1.0444, 1.04575, 1.0471, 1.04845, 1.0498, 1.05115, 1.0525, 1.05385], "tickCount": 30, "format": ".5f", "grid": true, "tickSize": 3, "labelPadding": 2, "labelOverlap": false, "labelBound": false, "domain": true}},
            "y2": {"field": "h"}
          }
        },
        {
          "data": {"name": "candles"},
          "mark": {"type": "bar", "width": 4, "stroke": "black", "strokeWidth": 1, "clip": true},
          "encoding": {
            "x": {"field": "k", "type": "quantitative"},
            "y": {"field": "o", "type": "quantitative"},
            "y2": {"field": "c"},
            "fill": {"condition": {"test": "datum.c < datum.o", "value": "black"}, "value": "white"}
          }
        },
        {
          "data": {"name": "jaw"},
          "mark": {"type": "line", "color": "#1450d2", "strokeWidth": 2, "interpolate": "monotone", "clip": true},
          "encoding": {
            "x": {"field": "k", "type": "quantitative"},
            "y": {"field": "p", "type": "quantitative"}
          }
        },
        {
          "data": {"name": "teeth"},
          "mark": {"type": "line", "color": "#ff0000", "strokeWidth": 2, "interpolate": "monotone", "clip": true},
          "encoding": {
            "x": {"field": "k", "type": "quantitative"},
            "y": {"field": "p", "type": "quantitative"}
          }
        },
        {
          "data": {"name": "lips"},
          "mark": {"type": "line", "color": "#33c633", "strokeWidth": 2, "interpolate": "monotone", "clip": true},
          "encoding": {
            "x": {"field": "k", "type": "quantitative"},
            "y": {"field": "p", "type": "quantitative"}
          }
        },
        {
          "data": {"name": "fractals"},
          "mark": {"type": "point", "filled": true, "fill": "#1e1e1e", "stroke": "#8a96a8", "strokeWidth": 0.6, "size": 110, "opacity": 1, "clip": true},
          "encoding": {
            "x": {"field": "k", "type": "quantitative"},
            "y": {"field": "p", "type": "quantitative"},
            "shape": {"field": "t", "type": "nominal", "scale": {"domain": ["up", "dn"], "range": ["M0,-1L1,0.9L0,0.35L-1,0.9Z", "M0,1L1,-0.9L0,-0.35L-1,-0.9Z"]}, "legend": null}
          }
        },
        {
          "data": {"name": "signal"},
          "mark": {"type": "point", "shape": "M-0.45,-1L0.45,-1L0.45,0L1,0L0,1L-1,0L-0.45,0Z", "size": 289, "filled": true, "fill": "#ffd9c9", "stroke": "#ff2200", "strokeWidth": 1.2, "opacity": 1},
          "encoding": {
            "x": {"field": "k", "type": "quantitative"},
            "y": {"field": "p", "type": "quantitative"}
          }
        },
        {
          "data": {"name": "last"},
          "mark": {"type": "rect", "width": 40, "height": 11, "color": "#c80000", "clip": false},
          "encoding": {
            "x": {"datum": 156.1, "type": "quantitative"},
            "y": {"field": "last", "type": "quantitative"}
          }
        },
        {
          "data": {"name": "last"},
          "mark": {"type": "text", "color": "white", "font": "Liberation Sans", "fontSize": 9.5, "align": "center", "baseline": "middle", "clip": false},
          "encoding": {
            "x": {"datum": 156.1, "type": "quantitative"},
            "y": {"field": "last", "type": "quantitative"},
            "text": {"field": "last", "type": "quantitative", "format": ".5f"}
          }
        }
      ]
    },
    {
      "width": 1225,
      "height": 101,
      "title": {"text": "AO -0.002662"},
      "data": {"name": "ao"},
      "mark": {"type": "bar", "width": 4},
      "encoding": {
        "x": {"field": "k", "type": "quantitative", "scale": {"domain": [-0.0625, 153.0625], "nice": false, "zero": false},
          "axis": {"orient": "bottom", "title": null, "values": [4,8,12,16,20,24,28,32,36,40,44,48,52,56,60,64,68,72,76,80,84,88,92,96,100,104,108,112,116,120,124,128,132,136,140,144,148,152], "tickCount": 60, "grid": true, "labels": false, "ticks": false, "domain": false}},
        "y": {"field": "v", "type": "quantitative", "scale": {"domain": [-0.012927, 0.004316], "nice": false, "zero": false},
          "axis": {"orient": "right", "title": null, "values": [0.004316, 0, -0.012927], "labelExpr": "datum.value > 0 ? '0.004316' : datum.value < 0 ? '-0.012927' : '0.000000'", "labelOverlap": false, "grid": true, "gridOpacity": {"condition": {"test": "datum.value == 0", "value": 1}, "value": 0}, "labelBaseline": {"condition": [{"test": "datum.value > 0", "value": "top"}, {"test": "datum.value < 0", "value": "bottom"}], "value": "middle"}, "tickSize": 3, "labelPadding": 2}},
        "y2": {"datum": 0},
        "color": {"field": "c", "type": "nominal", "scale": {"domain": ["g", "r"], "range": ["#008000", "#ff0000"]}, "legend": null}
      }
    },
    {
      "width": 1225,
      "height": 100,
      "title": {"text": "AC 0.0009152"},
      "data": {"name": "ac"},
      "mark": {"type": "bar", "width": 4},
      "encoding": {
        "x": {"field": "k", "type": "quantitative", "scale": {"domain": [-0.0625, 153.0625], "nice": false, "zero": false},
          "axis": {"orient": "bottom", "title": null, "values": [4,8,12,16,20,24,28,32,36,40,44,48,52,56,60,64,68,72,76,80,84,88,92,96,100,104,108,112,116,120,124,128,132,136,140,144,148,152], "tickCount": 60, "grid": true, "labels": false, "ticks": false, "domain": false}},
        "y": {"field": "v", "type": "quantitative", "scale": {"domain": [-0.004754, 0.0023393], "nice": false, "zero": false},
          "axis": {"orient": "right", "title": null, "values": [0.0023393, 0, -0.004754], "labelExpr": "datum.value > 0 ? '0.0023393' : datum.value < 0 ? '-0.0047540' : '0.0000000'", "labelOverlap": false, "grid": true, "gridOpacity": {"condition": {"test": "datum.value == 0", "value": 1}, "value": 0}, "labelBaseline": {"condition": [{"test": "datum.value > 0", "value": "top"}, {"test": "datum.value < 0", "value": "bottom"}], "value": "middle"}, "tickSize": 3, "labelPadding": 2}},
        "y2": {"datum": 0},
        "color": {"field": "c", "type": "nominal", "scale": {"domain": ["g", "r"], "range": ["#008000", "#ff0000"]}, "legend": null}
      }
    },
    {
      "width": 1225,
      "height": 84,
      "title": {"text": "Gator(13,8,5) 0.001444 0.000000"},
      "data": {"name": "gator"},
      "layer": [
        {
          "mark": {"type": "bar", "width": 4},
          "encoding": {
            "x": {"field": "k", "type": "quantitative", "scale": {"domain": [-0.0625, 153.0625], "nice": false, "zero": false},
              "axis": {"orient": "bottom", "title": null, "values": [0,4,8,12,16,20,24,28,32,36,40,44,48,52,56,60,64,68,72,76,80,84,88,92,96,100,104,108,112,116,120,124,128,132,136,140,144,148,152], "tickCount": 60, "grid": true, "gridOpacity": {"condition": {"test": "datum.value == 0", "value": 0}, "value": 1}, "ticks": true, "tickSize": 4, "tickOpacity": {"condition": {"test": "datum.value % 8 == 0 && datum.value <= 136", "value": 1}, "value": 0}, "domain": true, "labelAlign": "left", "labelBaseline": "top", "labelPadding": 0, "labelOffset": 1, "labelOverlap": false, "labelFlush": false, "labelBound": false,
                "labelExpr": "datum.value % 8 == 0 && datum.value <= 136 ? ['11 Dec 2024','12 Dec 06:00','12 Dec 14:00','12 Dec 22:00','13 Dec 06:00','13 Dec 14:00','13 Dec 22:00','16 Dec 06:00','16 Dec 14:00','16 Dec 22:00','17 Dec 06:00','17 Dec 14:00','17 Dec 22:00','18 Dec 06:00','18 Dec 14:00','18 Dec 22:00','19 Dec 06:00','19 Dec 14:00'][datum.value / 8] : ''"}},
            "y": {"field": "up", "type": "quantitative", "scale": {"domain": [-0.006017, 0.005853], "nice": false, "zero": false},
              "axis": {"orient": "right", "title": null, "values": [0.005853, 0, -0.006017], "labelExpr": "datum.value > 0 ? '0.005853' : datum.value < 0 ? '-0.006017' : '0.000000'", "labelOverlap": false, "grid": true, "gridOpacity": {"condition": {"test": "datum.value == 0", "value": 1}, "value": 0}, "labelBaseline": {"condition": [{"test": "datum.value > 0", "value": "top"}, {"test": "datum.value < 0", "value": "bottom"}], "value": "middle"}, "tickSize": 3, "labelPadding": 2}},
            "y2": {"datum": 0},
            "color": {"field": "uc", "type": "nominal", "scale": {"domain": ["g", "r"], "range": ["#008000", "#ff0000"]}, "legend": null}
          }
        },
        {
          "mark": {"type": "bar", "width": 4},
          "encoding": {
            "x": {"field": "k", "type": "quantitative"},
            "y": {"field": "dn", "type": "quantitative"},
            "y2": {"datum": 0},
            "color": {"field": "dc", "type": "nominal"}
          }
        }
      ]
    }
  ]
}
